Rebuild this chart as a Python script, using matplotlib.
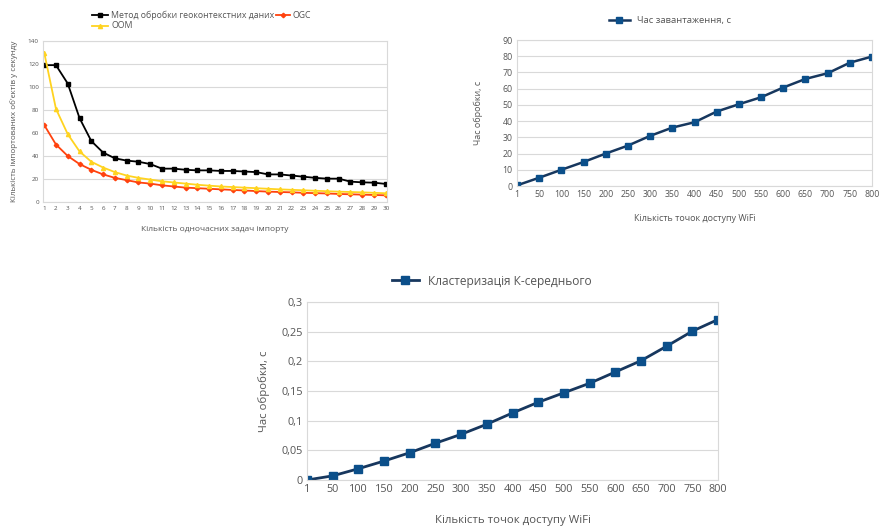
import matplotlib
matplotlib.use("Agg")
import matplotlib.pyplot as plt
from matplotlib.lines import Line2D

plt.rcParams['font.family'] = ['Open Sans', 'DejaVu Sans']

# ---- Chart 1 data ----
tasks = list(range(1, 31))
method_vals = [119, 119, 103, 73, 53, 43, 38, 36, 35, 33, 29, 29, 28, 27.5, 27.5,
               27, 27, 26.5, 26, 24, 24, 23, 22, 21, 20.3, 20.3, 17.7, 17.1, 16.8, 15.7]
ogc_vals = [67, 50, 40, 33, 28, 24, 21, 19, 17, 16, 14.5, 13.5, 12.5, 12, 11.5,
            11, 10.5, 10, 9.5, 9, 8.7, 8.4, 8, 7.7, 7.4, 7, 6.7, 6.4, 6.1, 5.8]
oom_vals = [130, 81, 59, 44, 35, 30, 26, 23, 21, 19.5, 18, 17, 16, 15, 14.2,
            13.5, 13, 12.5, 12, 11.5, 11, 10.6, 10.2, 9.8, 9.4, 9, 8.7, 8.4, 8, 7.6]
label_method = "Метод обробки геоконтекстних даних"
label_ogc = "OGC"
label_oom = "OOM"

# ---- Chart 2 & 3 shared categories ----
wifi_cats = ["1", "50", "100", "150", "200", "250", "300", "350", "400", "450",
             "500", "550", "600", "650", "700", "750", "800"]
load_time = [0.4, 5.1, 10, 14.8, 20, 24.9, 30.9, 36, 39.3, 45.9, 50.4, 54.7,
             60.7, 66, 69.5, 76, 79.8]
kmeans_time = [0.0, 0.007, 0.019, 0.032, 0.046, 0.062, 0.077, 0.094, 0.113,
               0.131, 0.147, 0.163, 0.182, 0.201, 0.2255, 0.2508, 0.2705]
kmeans_ticks = [0, 0.05, 0.1, 0.15, 0.2, 0.25, 0.3]
kmeans_ticklabels = ["0", "0,05", "0,1", "0,15", "0,2", "0,25", "0,3"]

W, H = 880, 527
fig = plt.figure(figsize=(8.8, 5.27), dpi=100)

def box(l, t, r, b):
    return [l / W, 1 - b / H, (r - l) / W, (b - t) / H]

txt = '#555555'
grid_c = '#d9d9d9'

def style(ax, fs):
    for s in ax.spines.values():
        s.set_color(grid_c)
        s.set_linewidth(0.8)
    ax.tick_params(axis='both', length=0, colors=txt, labelsize=fs, pad=3)
    ax.grid(axis='y', color=grid_c, linewidth=0.8)
    ax.set_axisbelow(True)

# ---- Chart 1 ----
ax1 = fig.add_axes(box(43, 41, 387, 202))
ax1.plot(tasks, method_vals, color='black', lw=1.3, marker='s', ms=3.2, label=label_method)
ax1.plot(tasks, ogc_vals, color='#ff420e', lw=1.3, marker='D', ms=2.3, label=label_ogc)
ax1.plot(tasks, oom_vals, color='#ffd320', lw=1.3, marker='^', ms=3, label=label_oom)
ax1.set_xlim(0.9, 30.1)
ax1.set_ylim(0, 140)
ax1.set_yticks(range(0, 141, 20))
ax1.set_xticks(tasks)
style(ax1, 4.5)
ax1.set_xlabel("Кількість одночасних задач імпорту", fontsize=6, color=txt, labelpad=11)
ax1.set_ylabel("Кількість імпортованих об'єктів у секунду", fontsize=5.8, color=txt, labelpad=7)
fig.text(111 / W, 1 - 15 / H, label_method, fontsize=6.3, color=txt, va='center')
fig.text(292 / W, 1 - 15 / H, label_ogc, fontsize=6.3, color=txt, va='center')
fig.text(111 / W, 1 - 26 / H, label_oom, fontsize=6.3, color=txt, va='center')
fig.add_artist(Line2D([92 / W, 108 / W], [1 - 15 / H] * 2, color='black', lw=1.3))
fig.add_artist(Line2D([100 / W], [1 - 15 / H], color='black', marker='s', ms=3))
fig.add_artist(Line2D([276 / W, 290 / W], [1 - 15 / H] * 2, color='#ff420e', lw=1.3))
fig.add_artist(Line2D([283 / W], [1 - 15 / H], color='#ff420e', marker='D', ms=2.3))
fig.add_artist(Line2D([92 / W, 108 / W], [1 - 26 / H] * 2, color='#ffd320', lw=1.3))
fig.add_artist(Line2D([100 / W], [1 - 26 / H], color='#ffd320', marker='^', ms=3))

line_c = '#17375e'
mark_c = '#0b4f8a'

# ---- Chart 2 ----
ax2 = fig.add_axes(box(517, 40, 872, 186))
xi = list(range(len(wifi_cats)))
ax2.plot(xi, load_time, color=line_c, lw=1.8, marker='s', ms=4.6,
         mfc=mark_c, mec=mark_c, label="Час завантаження, с")
ax2.set_xlim(0, len(wifi_cats) - 1)
ax2.set_ylim(0, 90)
ax2.set_yticks(range(0, 91, 10))
ax2.set_xticks(xi)
ax2.set_xticklabels(wifi_cats)
style(ax2, 6.3)
ax2.set_xlabel("Кількість точок доступу WiFi", fontsize=6.5, color=txt, labelpad=11)
ax2.set_ylabel("Час обробки, с", fontsize=6.5, color=txt, labelpad=14)
ax2.legend(loc='center', bbox_to_anchor=(670 / W, 1 - 21 / H), bbox_transform=fig.transFigure,
           frameon=False, fontsize=6.8, labelcolor=txt, handlelength=2.2)

# ---- Chart 3 ----
ax3 = fig.add_axes(box(307, 302, 718, 480))
ax3.plot(xi, kmeans_time, color=line_c, lw=2.0, marker='s', ms=5.5,
         mfc=mark_c, mec=mark_c, label="Кластеризація К-середнього")
ax3.set_xlim(0, len(wifi_cats) - 1)
ax3.set_ylim(0, 0.3)
ax3.set_yticks(kmeans_ticks)
ax3.set_yticklabels(kmeans_ticklabels)
ax3.set_xticks(xi)
ax3.set_xticklabels(wifi_cats)
style(ax3, 7.8)
ax3.set_xlabel("Кількість точок доступу WiFi", fontsize=8.2, color=txt, labelpad=14)
ax3.set_ylabel("Час обробки, с", fontsize=8.2, color=txt, labelpad=8)
ax3.legend(loc='center', bbox_to_anchor=(492 / W, 1 - 281 / H), bbox_transform=fig.transFigure,
           frameon=False, fontsize=8.6, labelcolor=txt, handlelength=2.2)

fig.savefig("out.png", dpi=100)
